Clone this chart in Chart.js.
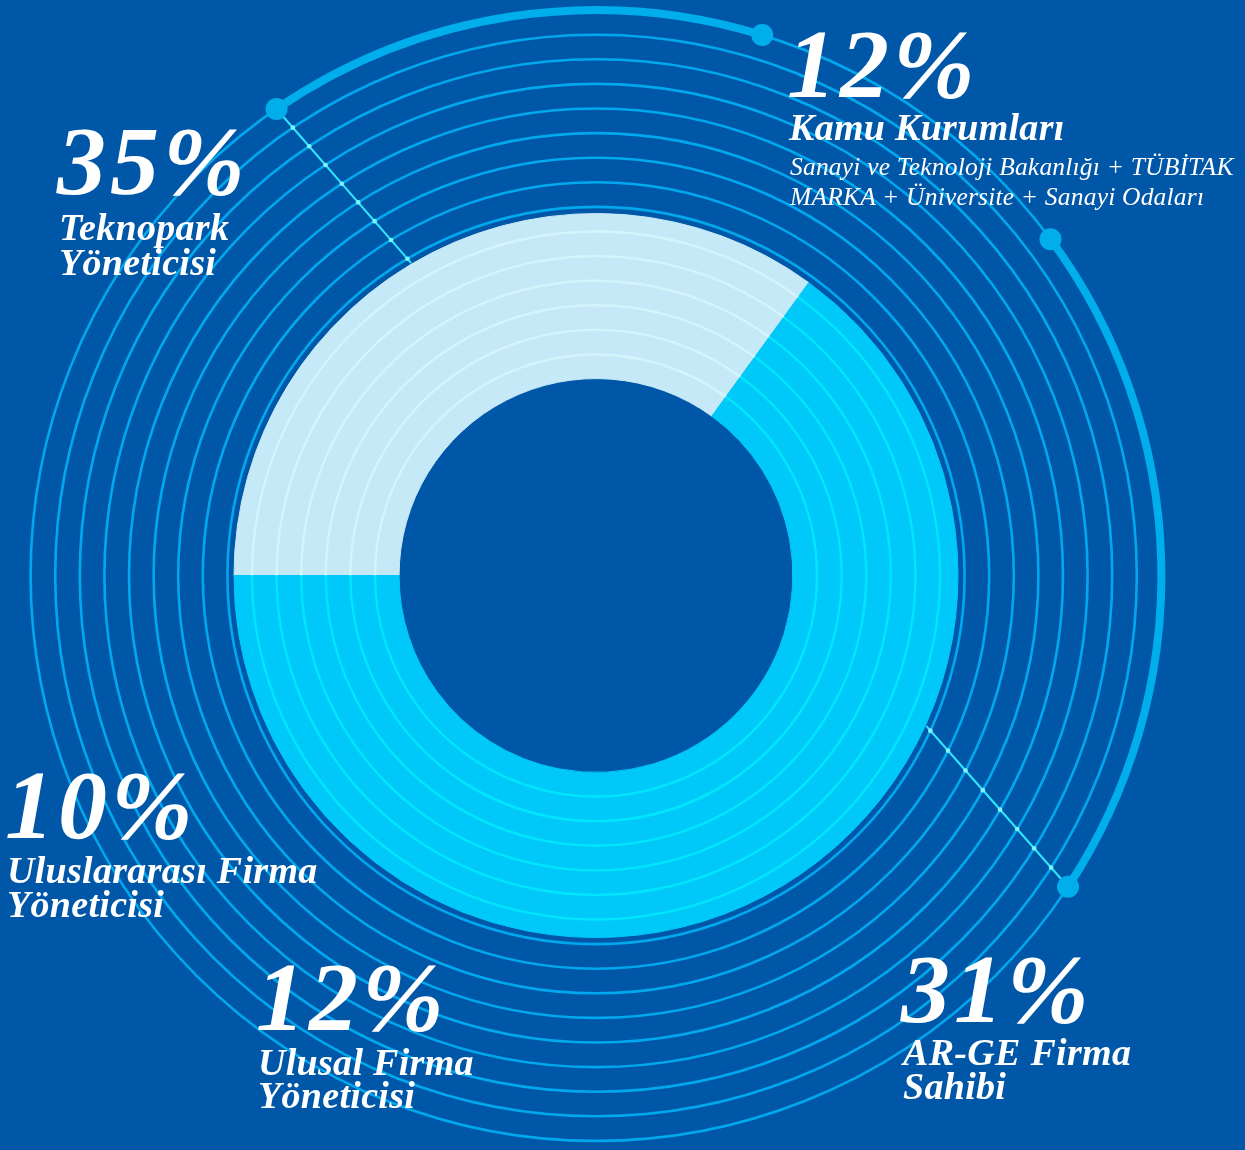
<!DOCTYPE html>
<html><head><meta charset="utf-8">
<script src="https://cdn.jsdelivr.net/npm/chart.js@4.4.1/dist/chart.umd.min.js"></script>
<style>
html,body{margin:0;padding:0;background:#0157A7;overflow:hidden}
#wrap{position:relative;width:1245px;height:1150px;background:#0157A7}
canvas{position:absolute;left:0;top:0}
.t{position:absolute;color:#fff;font-family:"Liberation Serif","DejaVu Serif",serif;font-style:italic;white-space:nowrap;line-height:1}
.num{font-weight:bold}
.lab{font-weight:bold}
.det{font-weight:normal}
</style></head><body><div id="wrap"><canvas id="c" width="1245" height="1150"></canvas></div>
<script>
// ---- data ----
const categories = ['Teknopark Yöneticisi', 'Kamu Kurumları', 'AR-GE Firma Sahibi', 'Ulusal Firma Yöneticisi', 'Uluslararası Firma Yöneticisi'];
const values = [35, 12, 31, 12, 10];
const labelLines = [['Teknopark', 'Yöneticisi'], ['Kamu Kurumları'], ['AR-GE Firma', 'Sahibi'], ['Ulusal Firma', 'Yöneticisi'], ['Uluslararası Firma', 'Yöneticisi']];
const kamuDetails = ['Sanayi ve Teknoloji Bakanlığı + TÜBİTAK', 'MARKA + Üniversite + Sanayi Odaları'];

// ---- style ----
const LIGHT = '#C5E9F7', CYAN = '#00C8F8';
const segColors = [LIGHT, CYAN, CYAN, CYAN, CYAN];
const ringOnSeg = {[LIGHT]: '#D5F5FD', [CYAN]: '#00E6FF'};
const RING_OUT = '#00A8EE', THICK = '#00AEEC', LEAD = '#2FE6FF';
const REF_R = 362, RING_R0 = 221, RING_STEP = 24.6, RING_COUNT = 15;
const thickArcs = [[-34.4, 17.1], [53.5, 123.4]];      // degrees clockwise from top
const leaders = [[-34.4, -30.6], [123.4, 114.5]];      // from outer dot angle to donut-edge angle

const ringPlugin = {
  id: 'rings',
  afterDatasetsDraw(chart) {
    const arcs = chart.getDatasetMeta(0).data;
    const cx = arcs[0].x, cy = arcs[0].y, R = arcs[0].outerRadius;
    const s = R / REF_R;
    const ctx = chart.ctx;
    const rad = d => (d - 90) * Math.PI / 180;
    ctx.save();
    const radii = [];
    for (let k = 0; k < RING_COUNT; k++) radii.push((RING_R0 + RING_STEP * k) * s);
    radii.forEach(r => {
      if (r < R) {
        arcs.forEach((a, i) => {
          ctx.beginPath();
          ctx.arc(cx, cy, r, a.startAngle, a.endAngle);
          ctx.strokeStyle = ringOnSeg[segColors[i]];
          ctx.lineWidth = 2.4;
          ctx.stroke();
        });
      } else {
        ctx.beginPath();
        ctx.arc(cx, cy, r, 0, Math.PI * 2);
        ctx.strokeStyle = RING_OUT;
        ctx.lineWidth = 2.6;
        ctx.stroke();
      }
    });
    const rOut = radii[radii.length - 1];
    // leader lines
    leaders.forEach(([a1, a2]) => {
      const A = {x: cx + rOut * Math.cos(rad(a1)), y: cy + rOut * Math.sin(rad(a1))};
      const B = {x: cx + (R + 1) * Math.cos(rad(a2)), y: cy + (R + 1) * Math.sin(rad(a2))};
      ctx.beginPath(); ctx.moveTo(A.x, A.y); ctx.lineTo(B.x, B.y);
      ctx.strokeStyle = LEAD; ctx.lineWidth = 2; ctx.stroke();
      const dx = B.x - A.x, dy = B.y - A.y;
      radii.forEach(r => {
        if (r <= R || r >= rOut) return;
        const fx = A.x - cx, fy = A.y - cy;
        const a = dx * dx + dy * dy, b = 2 * (fx * dx + fy * dy), c = fx * fx + fy * fy - r * r;
        const disc = b * b - 4 * a * c; if (disc < 0) return;
        const t = (-b - Math.sqrt(disc)) / (2 * a);
        if (t < 0 || t > 1) return;
        ctx.beginPath(); ctx.arc(A.x + t * dx, A.y + t * dy, 2.3, 0, Math.PI * 2);
        ctx.fillStyle = '#7DF4FF'; ctx.fill();
      });
    });
    // thick arcs with end dots
    thickArcs.forEach(([a1, a2]) => {
      ctx.beginPath(); ctx.arc(cx, cy, rOut, rad(a1), rad(a2));
      ctx.strokeStyle = THICK; ctx.lineWidth = 8; ctx.stroke();
      [a1, a2].forEach(a => {
        ctx.beginPath(); ctx.arc(cx + rOut * Math.cos(rad(a)), cy + rOut * Math.sin(rad(a)), 11, 0, Math.PI * 2);
        ctx.fillStyle = THICK; ctx.fill();
      });
    });
    ctx.restore();
  }
};

new Chart(document.getElementById('c'), {
  type: 'doughnut',
  data: {labels: categories, datasets: [{data: values, backgroundColor: segColors, borderColor: segColors, borderWidth: 1}]},
  options: {
    responsive: false, animation: false, events: [],
    rotation: -90, radius: 362, cutout: '54.4%',
    layout: {padding: {right: 53, top: 1}},
    plugins: {legend: {display: false}, tooltip: {enabled: false}}
  },
  plugins: [ringPlugin]
});

// ---- text labels ----
const wrap = document.getElementById('wrap');
function put(text, cls, x, base, size, ls) {
  const d = document.createElement('div');
  d.className = 't ' + cls;
  d.textContent = text;
  d.style.fontSize = size + 'px';
  d.style.left = x + 'px';
  d.style.top = (base - 0.8375 * size) + 'px';
  if (ls) d.style.letterSpacing = ls + 'px';
  wrap.appendChild(d);
}
const layout = [
  {x: 57, num: 194, lines: [240, 275]},
  {x: 787, num: 97, lines: [140]},
  {x: 901, num: 1022, lines: [1065, 1099]},
  {x: 256, num: 1030, lines: [1075, 1108]},
  {x: 5, num: 838, lines: [883, 917]}
];
layout.forEach((L, i) => {
  put(values[i] + '%', 'num', L.x, L.num, 98, 4);
  labelLines[i].forEach((t, j) => put(t, 'lab', L.x + 2, L.lines[j], 38, 0.3));
});
put(kamuDetails[0], 'det', 790, 175, 25.5, 0.2);
put(kamuDetails[1], 'det', 790, 205, 25.5, 0.2);
</script></body></html>
